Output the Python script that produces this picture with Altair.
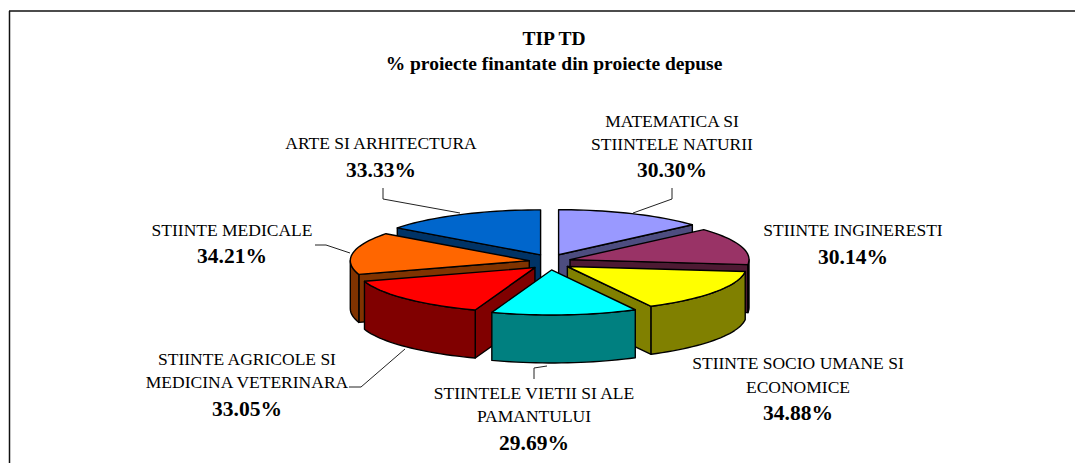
import math
import altair as alt
import pandas as pd

# --- data ---
categories = ["MATEMATICA SI STIINTELE NATURII", "STIINTE INGINERESTI",
              "STIINTE SOCIO UMANE SI ECONOMICE", "STIINTELE VIETII SI ALE PAMANTULUI",
              "STIINTE AGRICOLE SI MEDICINA VETERINARA", "STIINTE MEDICALE",
              "ARTE SI ARHITECTURA"]
values = [30.30, 30.14, 34.88, 29.69, 33.05, 34.21, 33.33]
top_colors = ["#9999FF", "#993366", "#FFFF00", "#00FFFF", "#FF0000", "#FF6600", "#0066CC"]
side_colors = ["#4D4D80", "#4D1A33", "#808000", "#008080", "#800000", "#803300", "#003366"]
draw_order = [0, 6, 1, 5, 2, 4, 3]  # back to front

# label layout: reference-page pixels (centre x, baseline y of first line)
label_lines = [
    (["MATEMATICA SI", "STIINTELE NATURII"], 672, [127, 150], 177),
    (["STIINTE INGINERESTI"], 853, [236], 264),
    (["STIINTE SOCIO UMANE SI", "ECONOMICE"], 798, [369, 393], 420),
    (["STIINTELE VIETII SI ALE", "PAMANTULUI"], 534, [399, 422], 450),
    (["STIINTE AGRICOLE SI", "MEDICINA VETERINARA"], 247, [365, 388], 416),
    (["STIINTE MEDICALE"], 232, [236], 263),
    (["ARTE SI ARHITECTURA"], 381, [149], 177),
]
title_lines = ["TIP TD", "% proiecte finantate din proiecte depuse"]
title_x, title_y = 554, [45, 70]
leaders = [
    [(633, 213), (672, 199), (672, 188)],
    [(547, 366), (534, 368), (534, 379)],
    [(405, 349), (361, 387), (349, 387)],
    [(350, 253), (326, 245), (315, 245)],
    [(460, 213), (383, 199), (383, 188)],
]

# pie geometry (pixels)
OFF = 8
CX, CY = 550 - OFF, 262 - OFF
RX, RY, DEPTH = 179, 45, 48
EX, EY = 21, 8


def pt(ax, ay, deg, drop=0):
    r = math.radians(deg)
    return [ax + RX * math.sin(r), ay - RY * math.cos(r) + drop]


def rim(ax, ay, a, b, drop=0):
    n = max(2, int((b - a) / 2) + 1)
    return [pt(ax, ay, a + (b - a) * i / (n - 1), drop) for i in range(n)]


def feature(ring, color):
    ring = list(ring) + [ring[0]]
    return {"type": "Feature", "properties": {"c": color},
            "geometry": {"type": "Polygon", "coordinates": [ring]}}


total = sum(values)
starts, cum = [], 0.0
for v in values:
    starts.append(cum)
    cum += v / total * 360

features = []
for i in draw_order:
    a = starts[i]
    b = a + values[i] / total * 360
    m = math.radians((a + b) / 2)
    ax, ay = CX + EX * math.sin(m), CY - EY * math.cos(m)
    apex, apex_low = [ax, ay], [ax, ay + DEPTH]
    if math.sin(math.radians(a)) < -1e-6:
        features.append(feature([apex, pt(ax, ay, a), pt(ax, ay, a, DEPTH), apex_low], side_colors[i]))
    if math.sin(math.radians(b)) > 1e-6:
        features.append(feature([apex, pt(ax, ay, b), pt(ax, ay, b, DEPTH), apex_low], side_colors[i]))
    lo, hi = max(a, 90), min(b, 270)
    if hi > lo:
        features.append(feature(rim(ax, ay, lo, hi) + rim(ax, ay, lo, hi, DEPTH)[::-1], side_colors[i]))
    features.append(feature([apex] + rim(ax, ay, a, b), top_colors[i]))

pie = alt.Chart(alt.Data(values=features)).mark_geoshape(
    stroke="black", strokeWidth=1.4, strokeJoin="round"
).encode(fill=alt.Fill("properties.c:N", scale=None)).project(
    type="identity", scale=1, translate=[0, 0]
)

name_rows, value_rows = [], []
for (lines, x, ys, vy), v in zip(label_lines, values):
    for t, y in zip(lines, ys):
        name_rows.append({"t": t, "x": x - OFF, "y": y - OFF})
    value_rows.append({"t": f"{v:.2f}%", "x": x - OFF, "y": vy - OFF})
title_rows = [{"t": t, "x": title_x - OFF, "y": y - OFF} for t, y in zip(title_lines, title_y)]

leader_rows = []
for k, line in enumerate(leaders):
    for j, (x, y) in enumerate(line):
        leader_rows.append({"k": k, "j": j, "x": x - OFF, "y": y - OFF})

X = alt.X("x:Q", scale=None, axis=None)
Y = alt.Y("y:Q", scale=None, axis=None)


def text_layer(rows, size, bold=False):
    return alt.Chart(pd.DataFrame(rows)).mark_text(
        font="Liberation Serif", fontSize=size, fontWeight="bold" if bold else "normal",
        color="black", align="center", baseline="alphabetic"
    ).encode(x=X, y=Y, text="t:N")


leader_layer = alt.Chart(pd.DataFrame(leader_rows)).mark_line(
    color="#222222", strokeWidth=1
).encode(x=X, y=Y, detail="k:N", order="j:Q")

frame_top = alt.Chart(pd.DataFrame({"a": [0]})).mark_rule(color="#111111", strokeWidth=1.5).encode(
    x=alt.value(1), x2=alt.value(1067), y=alt.value(3)
)
frame_left = alt.Chart(pd.DataFrame({"a": [0]})).mark_rule(color="#111111", strokeWidth=1.5).encode(
    x=alt.value(1.5), y=alt.value(3), y2=alt.value(455)
)

chart = alt.layer(
    frame_top, frame_left, leader_layer, pie,
    text_layer(name_rows, 17.5),
    text_layer(value_rows, 21.5, True),
    text_layer(title_rows, 19.5, True),
).properties(width=1067, height=455, padding=0, autosize="none", background="white"
).configure_view(stroke=None)

chart.save("out.html", embed_options={"renderer": "svg", "actions": False})
